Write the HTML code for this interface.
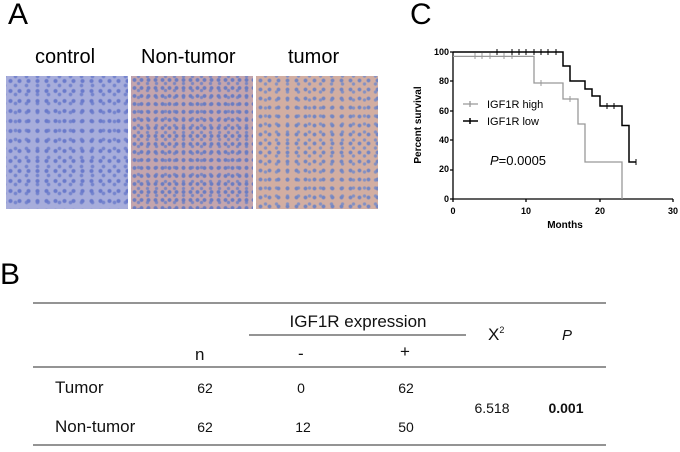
<!DOCTYPE html>
<html><head><style>
body{margin:0;width:680px;height:452px;background:#fff;position:relative;font-family:"Liberation Sans",sans-serif;overflow:hidden}
.t{position:absolute;white-space:nowrap}
.img{position:absolute;top:76px;height:133px}
</style></head><body>
<div class="t" style="left:8px;top:-2px;font-size:30px">A</div>
<div class="t" style="left:0px;top:258px;font-size:30px">B</div>
<div class="t" style="left:410px;top:-2px;font-size:30px">C</div>
<div class="t" style="left:35px;top:46px;font-size:20px">control</div>
<div class="t" style="left:141px;top:46px;font-size:20px">Non-tumor</div>
<div class="t" style="left:288px;top:46px;font-size:20px">tumor</div>
<div class="img" style="left:6px;width:122px;background:radial-gradient(circle,#6a7acb 1.4px,transparent 2.6px) 0 0/9px 10px,radial-gradient(circle,#7584cd 1.2px,transparent 2.4px) 4px 5px/11px 9px,#a7addb"></div>
<div class="img" style="left:131px;width:122px;background:radial-gradient(circle,#6a7cc2 1.3px,transparent 2.5px) 0 0/7px 8px,radial-gradient(circle,#7a86c2 1.1px,transparent 2.2px) 3px 4px/9px 7px,#c4a5ad"></div>
<div class="img" style="left:256px;width:122px;background:radial-gradient(circle,#7486c2 1.3px,transparent 2.5px) 0 0/9px 9px,radial-gradient(circle,#8290c4 1.1px,transparent 2.2px) 4px 4px/11px 8px,#d2aea2"></div>

<svg style="position:absolute;left:0;top:0" width="680" height="452">
<g font-family="Liberation Sans" font-weight="bold" font-size="9" text-anchor="end">
<text x="449" y="55">100</text><text x="449" y="84">80</text><text x="449" y="114">60</text><text x="449" y="143">40</text><text x="449" y="172">20</text><text x="449" y="202">0</text>
</g>
<g font-family="Liberation Sans" font-weight="bold" font-size="9" text-anchor="middle">
<text x="453" y="214">0</text><text x="526" y="214">10</text><text x="600" y="214">20</text><text x="673" y="214">30</text>
<text x="565" y="228" font-size="10">Months</text>
<text transform="translate(421,125) rotate(-90)" font-size="10">Percent survival</text>
</g>
<g stroke="#000" stroke-width="1.3" fill="none">
<path d="M453,52V199H673"/>
<path d="M450,52h3M450,81h3M450,111h3M450,140h3M450,170h3M450,199h3M453,199v3M526,199v3M600,199v3M673,199v3"/>
</g>
<path d="M453,56.4H534V83H563V99H578V124H585V162H622V199" stroke="#999" stroke-width="1.3" fill="none"/>
<path d="M475,53v6M482,53v6M490,53v6M504,53v6M512,53v6M541,80v6M570,96v6" stroke="#999" stroke-width="1"/>
<path d="M453,52H563V66H570V81H585V89H592V96H600V106H622V125.5H629V162H636" stroke="#000" stroke-width="1.5" fill="none"/>
<path d="M497,49v6M512,49v6M519,49v6M526,49v6M534,49v6M541,49v6M548,49v6M556,49v6M607,103v6M614,103v6M636,159v6" stroke="#000" stroke-width="1"/>
<path d="M463,104h15M470,101v6" stroke="#999" stroke-width="1.3"/>
<path d="M463,121h15M470,118v6" stroke="#000" stroke-width="1.5"/>
<g font-family="Liberation Sans" font-size="11"><text x="487" y="108">IGF1R high</text><text x="487" y="125">IGF1R low</text>
<text x="490" y="165" font-size="13"><tspan font-style="italic">P</tspan>=0.0005</text></g>
<g stroke="#555" stroke-width="1.3"><path d="M33,303H606M249,335H466M33,367H606M33,445H606"/></g>
<g font-family="Liberation Sans" font-size="17" fill="#111">
<text x="358" y="327" text-anchor="middle">IGF1R expression</text>
<text x="195" y="360">n</text><text x="298" y="359">-</text><text x="400" y="357">+</text>
<text x="488" y="340">X<tspan font-size="9" dy="-7">2</tspan></text>
<text x="562" y="340" font-style="italic" font-size="15">P</text>
<text x="55" y="393">Tumor</text><text x="55" y="432">Non-tumor</text>
</g>
<g font-family="Liberation Sans" font-size="14" fill="#111" text-anchor="middle">
<text x="205" y="393">62</text><text x="301" y="393">0</text><text x="406" y="393">62</text>
<text x="205" y="432">62</text><text x="303" y="432">12</text><text x="406" y="432">50</text>
<text x="492" y="413">6.518</text><text x="566" y="413" font-weight="bold">0.001</text>
</g>
</svg>
</body></html>
